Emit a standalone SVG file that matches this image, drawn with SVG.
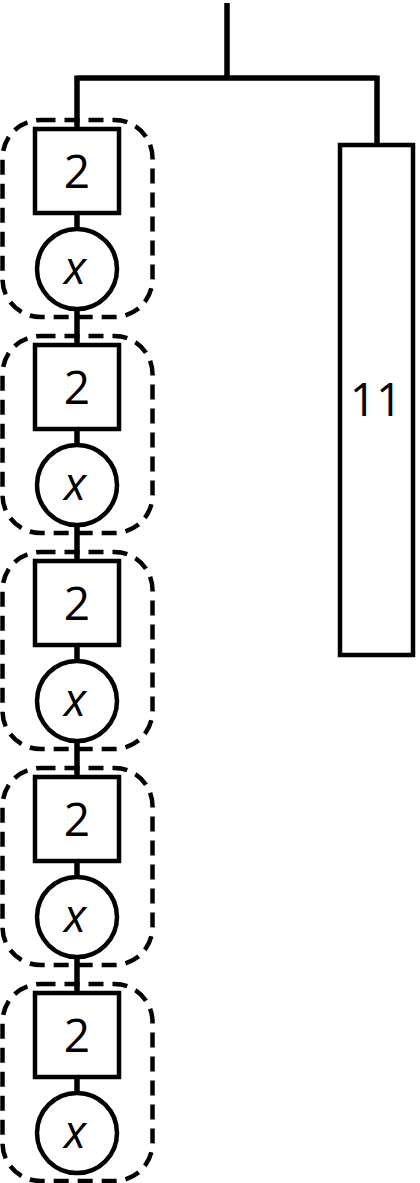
<svg xmlns="http://www.w3.org/2000/svg" width="420" height="1183" viewBox="0 0 420 1183">
<style>
.ln{stroke:#000;stroke-width:5.5;fill:none}
.bx{fill:#fff;stroke:#000;stroke-width:4.5}
.grp{fill:none;stroke:#000;stroke-width:4.5;stroke-dasharray:15 9}
.t{font-family:"Open Sans","Noto Sans",sans-serif;font-size:46px;text-anchor:middle;fill:#000}
.it{font-style:italic}
</style>
<rect width="420" height="1183" fill="#fff"/>
<g id="connectors">
<path class="ln" d="M227,3 V78 M77,78 H377 M77,75.5 V129 M377,75.5 V145"/>
<path class="ln" d="M77,213 V227 M77,311 V345 M77,429 V443 M77,527 V561 M77,645 V659 M77,743 V777 M77,861 V875 M77,959 V993 M77,1077 V1091"/>
</g>
<g id="group1"><rect class="grp" x="2.5" y="120" width="150" height="197" rx="38"/></g>
<g id="group2"><rect class="grp" x="2.5" y="336" width="150" height="197" rx="38"/></g>
<g id="group3"><rect class="grp" x="2.5" y="552" width="150" height="197" rx="38"/></g>
<g id="group4"><rect class="grp" x="2.5" y="768" width="150" height="197" rx="38"/></g>
<g id="group5"><rect class="grp" x="2.5" y="984" width="150" height="197" rx="38"/></g>
<g id="box1"><rect class="bx" x="35" y="129" width="84" height="84"/><text class="t" x="77" y="188">2</text></g>
<g id="circle1"><circle class="bx" cx="77" cy="269" r="40"/><text class="t it" x="75" y="284">x</text></g>
<g id="box2"><rect class="bx" x="35" y="345" width="84" height="84"/><text class="t" x="77" y="404">2</text></g>
<g id="circle2"><circle class="bx" cx="77" cy="485" r="40"/><text class="t it" x="75" y="500">x</text></g>
<g id="box3"><rect class="bx" x="35" y="561" width="84" height="84"/><text class="t" x="77" y="620">2</text></g>
<g id="circle3"><circle class="bx" cx="77" cy="701" r="40"/><text class="t it" x="75" y="716">x</text></g>
<g id="box4"><rect class="bx" x="35" y="777" width="84" height="84"/><text class="t" x="77" y="836">2</text></g>
<g id="circle4"><circle class="bx" cx="77" cy="917" r="40"/><text class="t it" x="75" y="932">x</text></g>
<g id="box5"><rect class="bx" x="35" y="993" width="84" height="84"/><text class="t" x="77" y="1052">2</text></g>
<g id="circle5"><circle class="bx" cx="77" cy="1133" r="40"/><text class="t it" x="75" y="1148">x</text></g>
<g id="box11"><rect class="bx" x="340" y="145" width="73" height="510"/><text class="t" x="376" y="416">11</text></g>
</svg>
